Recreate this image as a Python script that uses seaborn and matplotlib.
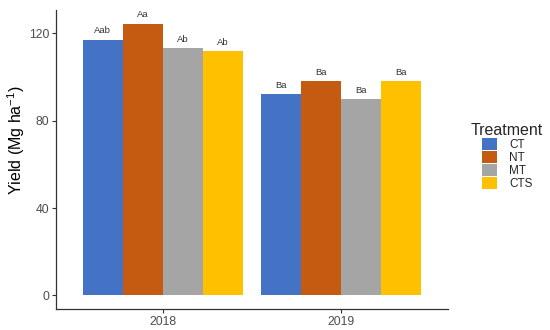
import pandas as pd
import seaborn as sns
import matplotlib.pyplot as plt

years = ["2018", "2019"]
treatments = ["CT", "NT", "MT", "CTS"]
yield_2018 = [117.1, 124.4, 113.2, 111.9]
yield_2019 = [92.2, 97.9, 89.7, 97.9]
letters_2018 = ["Aab", "Aa", "Ab", "Ab"]
letters_2019 = ["Ba", "Ba", "Ba", "Ba"]
palette = ["#4472C4", "#C55A11", "#A5A5A5", "#FFC000"]

df = pd.DataFrame({
    "Year": [years[0]] * 4 + [years[1]] * 4,
    "Treatment": treatments * 2,
    "Yield": yield_2018 + yield_2019,
})

sns.set_theme(style="white")
plt.rcParams['font.family'] = ['Liberation Sans', 'DejaVu Sans']
plt.rcParams['mathtext.default'] = 'regular'

fig = plt.figure(figsize=(5.5, 3.3), dpi=100)
ax = fig.add_axes([56 / 550, 21 / 330, 392 / 550, 299 / 330])

sns.barplot(data=df, x="Year", y="Yield", hue="Treatment", hue_order=treatments,
            palette=palette, width=0.9, gap=0, saturation=1, errorbar=None,
            linewidth=0, ax=ax)

# letters above bars, one container per treatment
for i, cont in enumerate(ax.containers):
    ax.bar_label(cont, labels=[letters_2018[i], letters_2019[i]], padding=3,
                 fontsize=6.8, color="#333333")

ax.set_xlim(-0.6, 1.6)
ax.set_ylim(-6.2, 130.6)
ax.set_yticks([0, 40, 80, 120])
ax.set_xlabel("")
ax.set_ylabel("Yield (Mg ha$^{-1}$)", fontsize=11.5, color="black")
ax.yaxis.set_label_coords(-0.074, 0.565)
ax.tick_params(axis="both", labelsize=8.8, labelcolor="#4d4d4d", colors="#333333",
               length=3, width=0.8, left=True, bottom=True, pad=2)
for s in ["top", "right"]:
    ax.spines[s].set_visible(False)
for s in ["left", "bottom"]:
    ax.spines[s].set_color("#333333")
    ax.spines[s].set_linewidth(0.9)

leg = ax.legend(title="Treatment", loc="upper left", bbox_to_anchor=(471 / 550, 1 - 123 / 330),
                bbox_transform=fig.transFigure, frameon=False, fontsize=8.5,
                title_fontsize=11.5, handlelength=1.3, handleheight=1.2,
                labelspacing=0.0, handletextpad=1.0, borderaxespad=0, borderpad=0)

fig.savefig("out.png", dpi=100)
